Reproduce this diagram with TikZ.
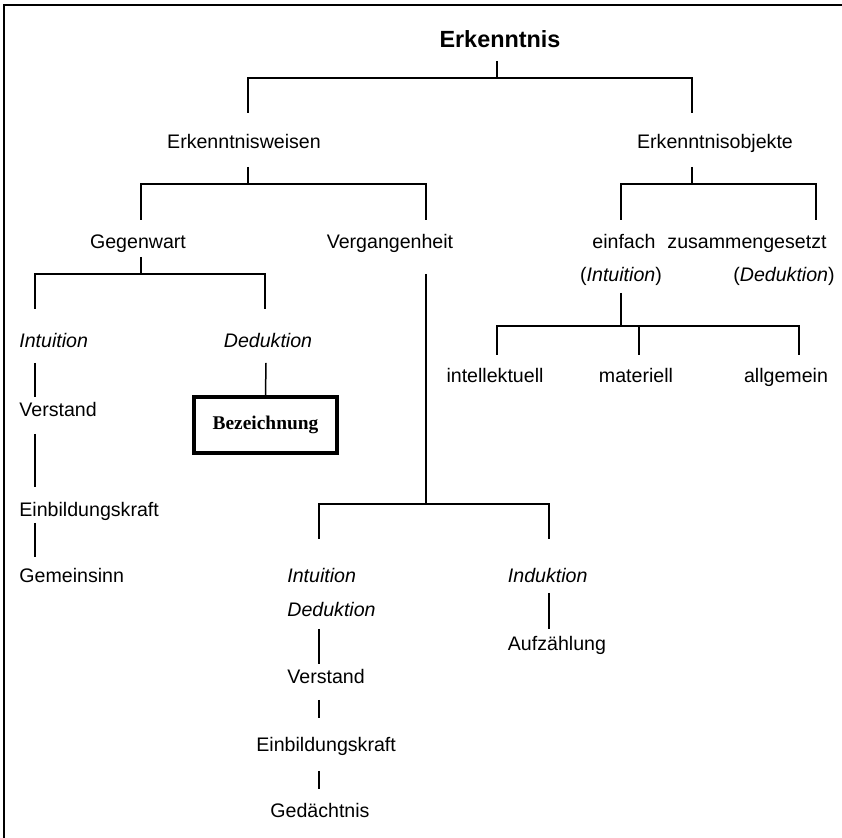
\documentclass[tikz,border=0pt]{standalone}
\usepackage{fontspec}
\setmainfont{Liberation Sans}
\newfontfamily\timesfont{Liberation Serif}
\begin{document}
\begin{tikzpicture}[x=0.5pt,y=-0.5pt,
  lbl/.style={inner sep=0pt,anchor=base,font=\fontsize{9.8}{12}\selectfont},
  lblw/.style={lbl,anchor=base west},
  it/.style={font=\fontsize{9.8}{12}\selectfont\itshape},
  conn/.style={line width=0.75pt},
  bezbox/.style={draw,line width=1.8pt,minimum width=71.5pt,minimum height=28pt,inner sep=0pt,font=\timesfont\bfseries\fontsize{9.7}{12}\selectfont}]
\useasboundingbox (0,0) rectangle (842,838);
\draw[line width=1pt] (4,838) -- (4,5) -- (842,5);
% texts
\node[lbl,font=\fontsize{11.7}{14}\selectfont\bfseries] (erk) at (500,48) {Erkenntnis};
\node[lbl] (weisen) at (244,149) {Erkenntnisweisen};
\node[lbl] (objekte) at (715,149) {Erkenntnisobjekte};
\node[lbl] (gegenwart) at (138,249) {Gegenwart};
\node[lbl] (verg) at (390,249) {Vergangenheit};
\node[lbl] (einfach) at (624,249) {einfach};
\node[lbl] (zusammen) at (747,249) {zusammengesetzt};
\node[lbl] (einfachI) at (621,282) {(\textit{Intuition})};
\node[lbl] (zusammenD) at (784,282) {(\textit{Deduktion})};
\node[lblw,it] (intL) at (19,348) {Intuition};
\node[lbl,it] (dedL) at (268,348) {Deduktion};
\node[lbl] (intell) at (495,383) {intellektuell};
\node[lbl] (mater) at (636,383) {materiell};
\node[lbl] (allg) at (786,383) {allgemein};
\node[lblw] (verstL) at (19,417) {Verstand};
\node[lblw] (einbL) at (19,517) {Einbildungskraft};
\node[lblw] (gemein) at (19,583) {Gemeinsinn};
\node[bezbox] (bez) at (265.5,425) {Bezeichnung};
\node[lblw,it] (intV) at (287,583) {Intuition};
\node[lblw,it] (dedV) at (287,617) {Deduktion};
\node[lblw,it] (indV) at (507.5,583) {Induktion};
\node[lblw] (aufz) at (507.5,651) {Aufzählung};
\node[lblw] (verstV) at (287,684) {Verstand};
\node[lblw] (einbV) at (256,752) {Einbildungskraft};
\node[lblw] (gedV) at (270,818) {Gedächtnis};
% connectors
\draw[conn] (497,61) -- (497,78);
\draw[conn] (248,113) -- (248,78) -- (692,78) -- (692,113);
\draw[conn] (248,167) -- (248,184);
\draw[conn] (141,220) -- (141,184) -- (426,184) -- (426,220);
\draw[conn] (692,167) -- (692,184);
\draw[conn] (621,220) -- (621,184) -- (816,184) -- (816,220);
\draw[conn] (141,257) -- (141,274);
\draw[conn] (35,309) -- (35,274) -- (265,274) -- (265,309);
\draw[conn] (426,274) -- (426,504);
\draw[conn] (319,539) -- (319,504) -- (549,504) -- (549,539);
\draw[conn] (621,293) -- (621,326);
\draw[conn] (497,355) -- (497,326) -- (799,326) -- (799,355);
\draw[conn] (639,326) -- (639,355);
\draw[conn] (35,363) -- (35,397);
\draw[conn] (35,434) -- (35,487);
\draw[conn] (35,523) -- (35,557);
\draw[conn] (266,363) -- (bez.north);
\draw[conn] (319,629) -- (319,664);
\draw[conn] (319,700) -- (319,718);
\draw[conn] (319,771) -- (319,789);
\draw[conn] (549,593) -- (549,629);
\end{tikzpicture}
\end{document}
